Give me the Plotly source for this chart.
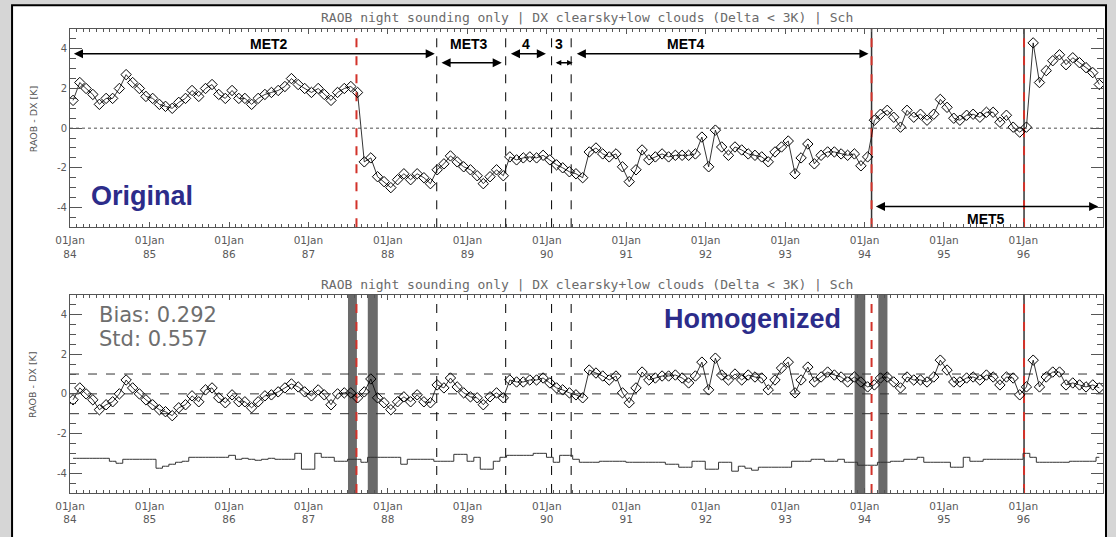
import plotly.graph_objects as go

# ---------------- data ----------------
months = [f"{1984 + i // 12}-{i % 12 + 1:02d}-15" for i in range(156)]

tick_dates = [f"{y}-01-01" for y in range(1984, 1997)]
tick_text = [f"01Jan<br>{y % 100:02d}" for y in range(1984, 1997)]
y_tickvals = [-4, -2, 0, 2, 4]
y_ticktext = ["-4", "-2", "0", "2", "4"]

original = [
    1.4, 2.3, 2.0, 1.7, 1.2, 1.5, 1.5, 2.0, 2.7, 2.3, 2.0, 1.6,
    1.5, 1.2, 1.1, 1.0, 1.3, 1.5, 1.9, 1.6, 2.0, 2.2, 1.7, 1.5,
    1.9, 1.5, 1.5, 1.2, 1.5, 1.7, 1.8, 1.9, 2.1, 2.5, 2.2, 2.0,
    1.8, 2.0, 1.7, 1.4, 1.8, 2.0, 2.1, 1.8, -1.7, -1.5, -2.45, -2.7,
    -3.0, -2.6, -2.3, -2.6, -2.3, -2.5, -2.8, -2.1, -1.8, -1.4, -1.7, -1.95,
    -2.1, -2.4, -2.8, -2.45, -2.1, -2.4, -1.45, -1.6, -1.5, -1.45, -1.5, -1.37,
    -1.6, -1.85, -2.0, -2.2, -2.3, -2.5, -1.2, -1.0, -1.3, -1.45, -1.3, -1.95,
    -2.7, -2.1, -1.1, -1.6, -1.45, -1.3, -1.45, -1.37, -1.37, -1.37, -1.3, -0.45,
    -1.95, -0.1, -0.95, -1.37, -0.95, -1.1, -1.3, -1.37, -1.45, -1.7, -1.2, -0.95,
    -0.65, -2.3, -1.5, -0.8, -1.8, -1.37, -1.2, -1.2, -1.3, -1.37, -1.3, -1.9,
    -1.45, 0.4, 0.7, 0.9, 0.55, 0.05, 0.9, 0.55, 0.7, 0.4, 0.7, 1.45,
    1.05, 0.5, 0.4, 0.65, 0.7, 0.55, 0.8, 0.8, 0.3, 0.65, 0.05, -0.2,
    0.05, 4.3, 2.3, 2.9, 3.4, 3.7, 3.2, 3.55, 3.3, 3.05, 2.8, 2.2,
]

homogenized = [
    -0.3, 0.3, 0.0, -0.3, -0.8, -0.55, -0.4, 0.0, 0.7, 0.3, 0.0, -0.3,
    -0.55, -0.8, -0.9, -1.1, -0.7, -0.55, -0.1, -0.4, 0.2, 0.3, -0.2, -0.45,
    -0.05, -0.4, -0.4, -0.7, -0.4, -0.1, -0.05, 0.1, 0.3, 0.5, 0.35, 0.1,
    -0.1, 0.2, -0.05, -0.55, 0.0, 0.05, 0.05, -0.2, 0.1, 0.75, -0.2, -0.45,
    -0.8, -0.4, -0.15, -0.4, -0.05, -0.4, -0.45, 0.45, 0.3, 0.8, 0.35, 0.05,
    -0.15, -0.2, -0.55, -0.15, 0.05, -0.2, 0.7, 0.6, 0.6, 0.7, 0.7, 0.8,
    0.55, 0.3, 0.2, 0.05, -0.05, -0.2, 1.2, 1.05, 0.9, 0.7, 0.9, 0.05,
    -0.45, 0.3, 1.1, 0.7, 0.8, 0.9, 0.9, 0.95, 0.8, 0.55, 0.9, 1.6,
    0.2, 1.8, 0.95, 0.7, 1.0, 0.7, 0.95, 0.85, 0.8, 0.2, 0.7, 1.3,
    1.6, 0.05, 0.7, 1.35, 0.6, 0.85, 1.1, 0.95, 0.85, 0.6, 0.85, 0.6,
    0.35, 0.45, 0.8, 0.85, 0.6, 0.3, 0.85, 0.7, 0.7, 0.6, 0.85, 1.7,
    1.2, 0.6, 0.6, 0.8, 0.85, 0.7, 0.95, 0.85, 0.45, 0.85, 0.8, -0.05,
    0.35, 1.7, 0.35, 0.85, 1.1, 1.1, 0.45, 0.55, 0.45, 0.35, 0.45, 0.3,
]

step_series = [
    -3.25, -3.25, -3.25, -3.25, -3.25, -3.25, -3.4, -3.5, -3.3, -3.3, -3.3, -3.3,
    -3.3, -3.75, -3.65, -3.55, -3.45, -3.4, -3.2, -3.2, -3.2, -3.2, -3.2, -3.2,
    -3.1, -3.3, -3.25, -3.3, -3.35, -3.3, -3.25, -3.3, -3.3, -3.3, -3.0, -3.8,
    -3.8, -3.0, -3.2, -3.2, -3.4, -3.4, -3.3, -3.3, -3.45, -3.2, -3.2, -3.2,
    -3.2, -3.2, -3.55, -3.3, -3.3, -3.3, -3.3, -3.4, -3.4, -3.4, -3.05, -3.05,
    -3.4, -3.2, -3.8, -3.8, -3.4, -3.2, -3.1, -3.1, -3.1, -3.1, -3.0, -3.0,
    -3.2, -3.45, -3.1, -3.1, -3.3, -3.45, -3.45, -3.45, -3.4, -3.4, -3.4, -3.4,
    -3.45, -3.45, -3.45, -3.45, -3.45, -3.45, -3.55, -3.55, -3.7, -3.7, -3.4, -3.4,
    -3.8, -3.8, -3.45, -3.45, -3.9, -3.65, -3.75, -3.85, -3.7, -3.7, -3.7, -3.7,
    -3.7, -3.4, -3.4, -3.4, -3.3, -3.3, -3.4, -3.4, -3.3, -3.45, -3.45, -3.6,
    -3.6, -3.6, -3.45, -3.45, -3.4, -3.4, -3.3, -3.3, -3.2, -3.45, -3.45, -3.45,
    -3.45, -3.7, -3.7, -3.2, -3.4, -3.4, -3.3, -3.3, -3.3, -3.3, -3.3, -3.3,
    -3.0, -3.2, -3.45, -3.45, -3.45, -3.45, -3.45, -3.4, -3.4, -3.4, -3.4, -3.2,
]

red_breaks = ["1987-08-10", "1994-02-02", "1996-01-04"]
black_breaks = ["1988-08-13", "1989-06-26", "1990-01-23", "1990-04-23"]
gray_band_starts = ["1987-07-02", "1987-10-01", "1993-11-16", "1994-03-05"]
gray_band_ends = ["1987-08-12", "1987-11-16", "1994-01-04", "1994-04-16"]

period_names = ["MET2", "MET3", "4", "3", "MET4", "MET5"]
period_starts = ["1984-01-12", "1988-08-28", "1989-07-13", "1990-02-04", "1990-05-12", "1994-02-15"]
period_ends = ["1988-08-04", "1989-06-08", "1989-12-28", "1990-04-30", "1994-01-19", "1996-12-10"]
period_arrow_y = [3.75, 3.3, 3.75, 3.3, 3.75, -3.95]
period_label_x = ["1986-07-05", "1989-01-10", "1989-09-28", "1990-02-28", "1991-10-01", "1995-07-15"]
period_label_y = [4.25, 4.25, 4.25, 4.25, 4.25, -4.6]
period_head_size = [1.3, 1.3, 1.3, 0.8, 1.3, 1.3]

bias_value = 0.292
std_value = 0.557
title_text = "RAOB night sounding only | DX clearsky+low clouds (Delta < 3K) | Sch"

# ---------------- figure ----------------
W, H = 1116, 537
ML, MR, MT, MB = 70, 12, 29, 40
PW, PH = W - ML - MR, H - MT - MB


def px_x(p):
    return (p - ML) / PW


def px_y(p):
    return (H - MB - p) / PH


TICK_FONT = dict(family="DejaVu Sans", size=10.5, color="#5a5a5a")
AX_COLOR = "#555555"

fig = go.Figure()

fig.add_trace(go.Scatter(
    x=months, y=original, mode="lines+markers", xaxis="x", yaxis="y",
    line=dict(color="black", width=0.8),
    marker=dict(symbol="diamond-open", size=8, color="black", line=dict(width=1, color="black")),
))
fig.add_trace(go.Scatter(
    x=months, y=homogenized, mode="lines+markers", xaxis="x2", yaxis="y2",
    line=dict(color="black", width=0.8),
    marker=dict(symbol="diamond-open", size=8, color="black", line=dict(width=1, color="black")),
))
fig.add_trace(go.Scatter(
    x=months, y=step_series, mode="lines", xaxis="x2", yaxis="y2",
    line=dict(color="#333333", width=1, shape="hvh"),
))

common_x = dict(
    type="date", range=["1984-01-01", "1997-01-01"],
    tickmode="array", tickvals=tick_dates, ticktext=tick_text,
    ticks="inside", ticklen=5, tickcolor=AX_COLOR, tickwidth=1,
    showline=True, linecolor=AX_COLOR, linewidth=1, mirror="allticks",
    showgrid=False, zeroline=False, tickfont=TICK_FONT, ticklabelstandoff=3,
    minor=dict(tickmode="linear", tick0="1984-01-01", dtick="M1", ticks="inside",
               ticklen=3, tickcolor=AX_COLOR, showgrid=False),
)
common_y = dict(
    range=[-5, 5], tickmode="array", tickvals=y_tickvals, ticktext=y_ticktext,
    ticks="inside", ticklen=12, tickcolor=AX_COLOR, tickwidth=1,
    showline=True, linecolor=AX_COLOR, linewidth=1, mirror="allticks",
    showgrid=False, zeroline=False, tickfont=dict(TICK_FONT, size=10),
    minor=dict(tickmode="linear", tick0=-5, dtick=0.5, ticks="inside",
               ticklen=6, tickcolor=AX_COLOR, showgrid=False),
)

top_dom = [px_y(229), px_y(29)]
bot_dom = [px_y(497), px_y(297)]

fig.update_layout(
    width=W, height=H,
    margin=dict(l=ML, r=MR, t=MT, b=MB),
    paper_bgcolor="#d6d6d6", plot_bgcolor="white",
    showlegend=False,
    xaxis=dict(common_x, domain=[0, 1], anchor="y"),
    yaxis=dict(common_y, domain=top_dom, anchor="x"),
    xaxis2=dict(common_x, domain=[0, 1], anchor="y2"),
    yaxis2=dict(common_y, domain=bot_dom, anchor="x2"),
)

shapes = []
# white frame with black border
shapes.append(dict(type="rect", xref="paper", yref="paper",
                   x0=px_x(12), x1=px_x(1107), y0=px_y(545), y1=px_y(5),
                   fillcolor="white", line=dict(color="black", width=2), layer="below"))

# gray bands (bottom panel)
for s, e in zip(gray_band_starts, gray_band_ends):
    shapes.append(dict(type="rect", xref="x2", yref="y2 domain", x0=s, x1=e, y0=0, y1=1,
                       fillcolor="#6a6a6a", line=dict(width=0), layer="below"))

# horizontal reference lines
shapes.append(dict(type="line", xref="x domain", yref="y", x0=0, x1=1, y0=0, y1=0,
                   line=dict(color="#8a8a8a", width=1.5, dash="dot"), layer="below"))
for hv in [-1, 0, 1]:
    shapes.append(dict(type="line", xref="x2 domain", yref="y2", x0=0, x1=1, y0=hv, y1=hv,
                       line=dict(color="#333333", width=1, dash="dash"), layer="below"))

# break lines
for xa, ya, dark in [("x", "y domain", red_breaks[1:]), ("x2", "y2 domain", red_breaks[2:])]:
    for b in black_breaks:
        shapes.append(dict(type="line", xref=xa, yref=ya, x0=b, x1=b, y0=0, y1=1,
                           line=dict(color="black", width=1, dash="dash"), layer="below"))
    for b in dark:
        shapes.append(dict(type="line", xref=xa, yref=ya, x0=b, x1=b, y0=0, y1=1,
                           line=dict(color="#333333", width=1.5), layer="below"))
    for b in red_breaks:
        shapes.append(dict(type="line", xref=xa, yref=ya, x0=b, x1=b, y0=0, y1=1,
                           line=dict(color="#d2322a", width=2, dash="dash"), layer="below"))

fig.update_layout(shapes=shapes)

ann = []
# titles
for ty in [17, 287]:
    ann.append(dict(xref="paper", yref="paper", x=0.5, y=px_y(ty), text=title_text,
                    showarrow=False, xanchor="center", yanchor="middle",
                    font=dict(family="DejaVu Sans Mono", size=13, color="#6a6a6a")))
# y-axis titles
for cy in [120, 388]:
    ann.append(dict(xref="paper", yref="paper", x=px_x(33), y=px_y(cy), text="RAOB - DX [K]",
                    showarrow=False, textangle=-90, xanchor="center", yanchor="middle",
                    font=dict(family="DejaVu Sans", size=9.5, color="#555555")))

# period arrows + labels
for name, s, e, ay, lx, ly, hs in zip(period_names, period_starts, period_ends,
                                       period_arrow_y, period_label_x, period_label_y,
                                       period_head_size):
    ann.append(dict(xref="x", yref="y", axref="x", ayref="y", x=e, y=ay, ax=s, ay=ay,
                    text="", showarrow=True, arrowhead=2, arrowside="end+start",
                    arrowsize=hs, arrowwidth=1.4, arrowcolor="black"))
    ann.append(dict(xref="x", yref="y", x=lx, y=ly, text=f"<b>{name}</b>", showarrow=False,
                    xanchor="center", yanchor="middle",
                    font=dict(family="Liberation Sans", size=14, color="black")))

ann.append(dict(xref="paper", yref="paper", x=px_x(142), y=px_y(197), text="<b>Original</b>",
                showarrow=False, xanchor="center", yanchor="middle",
                font=dict(family="Liberation Sans", size=27, color="#2c2c8a")))
ann.append(dict(xref="paper", yref="paper", x=px_x(753), y=px_y(322), text="<b>Homogenized</b>",
                showarrow=False, xanchor="center", yanchor="middle",
                font=dict(family="Liberation Sans", size=27, color="#2c2c8a")))
ann.append(dict(xref="paper", yref="paper", x=px_x(97), y=px_y(317), text=f"Bias: {bias_value:.3f}",
                showarrow=False, xanchor="left", yanchor="middle",
                font=dict(family="DejaVu Sans", size=21, color="#6e6e6e")))
ann.append(dict(xref="paper", yref="paper", x=px_x(97), y=px_y(342), text=f"Std: {std_value:.3f}",
                showarrow=False, xanchor="left", yanchor="middle",
                font=dict(family="DejaVu Sans", size=21, color="#6e6e6e")))

fig.update_layout(annotations=ann)

fig.write_html("out.html", config={"displayModeBar": False},
               post_script="document.body.style.margin='0px';")
